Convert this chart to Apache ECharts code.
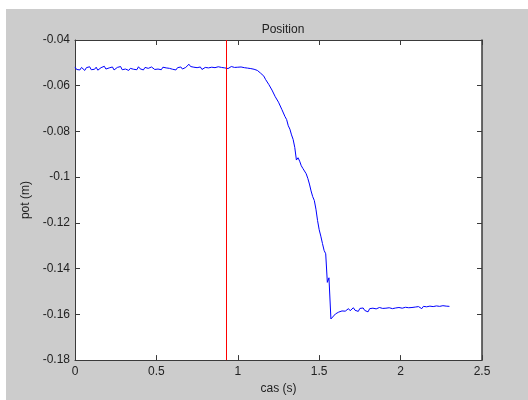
<!DOCTYPE html>
<html>
<head>
<meta charset="utf-8">
<script src="https://cdn.jsdelivr.net/npm/echarts@6/dist/echarts.min.js"></script>
<style>
html,body{margin:0;padding:0;background:#ffffff;width:528px;height:400px;overflow:hidden;}
#chart{position:absolute;left:6px;top:9px;width:522px;height:391px;}
</style>
</head>
<body>
<div id="chart"></div>
<script>
var titleText = 'Position';
var xName = 'cas (s)';
var yName = 'pot (m)';
var xTicks = [0, 0.5, 1, 1.5, 2, 2.5];
var yTicks = [-0.18, -0.16, -0.14, -0.12, -0.1, -0.08, -0.06, -0.04];
var markerTime = 0.932;

// flat start (0.00 - 1.10)
var timesA = [
0.00,0.01,0.02,0.03,0.04,0.05,0.06,0.07,0.08,0.09,
0.10,0.11,0.12,0.13,0.14,0.15,0.16,0.17,0.18,0.19,
0.20,0.21,0.22,0.23,0.24,0.25,0.26,0.27,0.28,0.29,
0.30,0.31,0.32,0.33,0.34,0.35,0.36,0.37,0.38,0.39,
0.40,0.41,0.42,0.43,0.44,0.45,0.46,0.47,0.48,0.49,
0.50,0.51,0.52,0.53,0.54,0.55,0.56,0.57,0.58,0.59,
0.60,0.61,0.62,0.63,0.64,0.65,0.66,0.67,0.68,0.69,
0.70,0.71,0.72,0.73,0.74,0.75,0.76,0.77,0.78,0.79,
0.80,0.81,0.82,0.83,0.84,0.85,0.86,0.87,0.88,0.89,
0.90,0.91,0.92,0.93,0.94,0.95,0.96,0.97,0.98,0.99,
1.00,1.01,1.02,1.03,1.04,1.05,1.06,1.07,1.08,1.09,1.10
];
var positionsA = [
-0.0518,-0.0529,-0.0522,-0.0531,-0.0520,-0.0527,-0.0533,-0.0521,-0.0526,-0.0517,
-0.0530,-0.0523,-0.0528,-0.0519,-0.0532,-0.0524,-0.0521,-0.0529,-0.0515,-0.0527,
-0.0534,-0.0522,-0.0526,-0.0518,-0.0531,-0.0525,-0.0520,-0.0528,-0.0516,-0.0530,
-0.0523,-0.0527,-0.0521,-0.0533,-0.0524,-0.0519,-0.0528,-0.0522,-0.0530,-0.0517,
-0.0526,-0.0523,-0.0531,-0.0520,-0.0527,-0.0524,-0.0532,-0.0518,-0.0525,-0.0529,
-0.0521,-0.0527,-0.0523,-0.0530,-0.0519,-0.0526,-0.0522,-0.0529,-0.0524,-0.0520,
-0.0528,-0.0523,-0.0531,-0.0521,-0.0526,-0.0518,-0.0527,-0.0522,-0.0520,-0.0512,
-0.0506,-0.0516,-0.0524,-0.0519,-0.0527,-0.0521,-0.0525,-0.0518,-0.0529,-0.0523,
-0.0520,-0.0527,-0.0522,-0.0530,-0.0519,-0.0525,-0.0521,-0.0528,-0.0517,-0.0524,
-0.0520,-0.0527,-0.0522,-0.0518,-0.0525,-0.0521,-0.0516,-0.0524,-0.0520,-0.0526,
-0.0519,-0.0523,-0.0518,-0.0525,-0.0521,-0.0527,-0.0523,-0.0529,-0.0525,-0.0531,-0.0528
];

// fall (1.11 - 1.64)
var timesB = [
1.11,1.12,1.13,1.14,1.15,1.16,1.17,1.18,1.19,1.20,
1.21,1.22,1.23,1.24,1.25,1.26,1.27,1.28,1.29,1.30,
1.31,1.32,1.33,1.34,1.35,1.36,1.37,1.38,1.39,1.40,
1.41,1.42,1.43,1.44,1.45,1.46,1.47,1.48,1.49,1.50,
1.51,1.52,1.53,1.54,1.55,1.56,1.57,1.572,1.58,1.60,1.62
];
var positionsB = [
-0.0536,-0.0533,-0.0541,-0.0545,-0.0553,-0.0558,-0.0572,-0.0580,-0.0594,-0.0600,
-0.0619,-0.0626,-0.0648,-0.0655,-0.0672,-0.0680,-0.0703,-0.0710,-0.0735,-0.0748,
-0.0775,-0.0790,-0.0815,-0.0835,-0.0870,-0.0925,-0.0915,-0.0930,-0.0950,-0.0962,
-0.0968,-0.0985,-0.1005,-0.1030,-0.1060,-0.1085,-0.1102,-0.1140,-0.1190,-0.1230,
-0.1258,-0.1290,-0.1320,-0.1335,-0.1460,-0.1440,-0.1435,-0.1620,-0.1612,-0.1598,-0.1590
];

// settled end (1.64 - 2.30)
var timesC = [
1.64,1.65,1.66,1.67,1.68,1.69,1.70,1.71,1.72,1.73,
1.74,1.75,1.76,1.77,1.78,1.79,1.80,1.81,1.82,1.83,
1.84,1.85,1.86,1.87,1.88,1.89,1.90,1.91,1.92,1.93,
1.94,1.95,1.96,1.97,1.98,1.99,2.00,2.01,2.02,2.03,
2.04,2.05,2.06,2.07,2.08,2.09,2.10,2.11,2.12,2.13,
2.14,2.15,2.16,2.17,2.18,2.19,2.20,2.21,2.22,2.23,
2.24,2.25,2.26,2.27,2.28,2.29,2.30
];
var positionsC = [
-0.1585,-0.1579,-0.1586,-0.1580,-0.1575,-0.1584,-0.1577,-0.1571,-0.1582,-0.1576,
-0.1587,-0.1574,-0.1580,-0.1572,-0.1583,-0.1577,-0.1589,-0.1575,-0.1581,-0.1573,
-0.1579,-0.1576,-0.1584,-0.1570,-0.1578,-0.1574,-0.1580,-0.1573,-0.1577,-0.1571,
-0.1579,-0.1575,-0.1582,-0.1572,-0.1576,-0.1570,-0.1578,-0.1573,-0.1576,-0.1569,
-0.1575,-0.1571,-0.1579,-0.1570,-0.1574,-0.1568,-0.1573,-0.1566,-0.1571,-0.1575,
-0.1565,-0.1570,-0.1567,-0.1573,-0.1564,-0.1569,-0.1566,-0.1571,-0.1563,-0.1568,
-0.1565,-0.1569,-0.1562,-0.1567,-0.1564,-0.1568,-0.1565
];

var times = timesA.concat(timesB, timesC);
var positions = positionsA.concat(positionsB, positionsC);
var seriesData = times.map(function (t, i) { return [t, positions[i]]; });

var FONT = 'Liberation Sans, Arial, sans-serif';
var axisColor = '#3a3a3a';
var textColor = '#222222';

function fmt(v) { return String(parseFloat(v.toFixed(4))); }

var xMin = xTicks[0], xMax = xTicks[xTicks.length - 1];
var yMin = yTicks[0], yMax = yTicks[yTicks.length - 1];
var xInt = xTicks[1] - xTicks[0];
var yInt = 0.02;

var chart = echarts.init(document.getElementById('chart'), null, {renderer: 'canvas'});
chart.setOption({
  backgroundColor: '#cccccc',
  animation: false,
  title: {
    text: titleText,
    left: 272, top: 10, textAlign: 'center',
    textStyle: {fontFamily: FONT, fontSize: 12, fontWeight: 'normal', color: textColor}
  },
  grid: {left: 69, top: 31, right: 46, bottom: 37, show: true, backgroundColor: '#ffffff', borderWidth: 0},
  xAxis: [{
    type: 'value', min: xMin, max: xMax, interval: xInt, position: 'bottom',
    name: xName, nameLocation: 'middle', nameGap: 20,
    nameTextStyle: {fontFamily: FONT, fontSize: 12, color: textColor},
    axisLine: {show: true, onZero: false, lineStyle: {color: axisColor, width: 1}},
    axisTick: {show: true, inside: true, length: 5, lineStyle: {color: axisColor}},
    axisLabel: {fontFamily: FONT, fontSize: 12, color: textColor, margin: 6, formatter: fmt},
    splitLine: {show: false}
  }, {
    type: 'value', min: xMin, max: xMax, interval: xInt, position: 'top',
    axisLine: {show: true, onZero: false, lineStyle: {color: axisColor, width: 1}},
    axisTick: {show: true, inside: true, length: 5, lineStyle: {color: axisColor}},
    axisLabel: {show: false}, splitLine: {show: false}
  }],
  yAxis: [{
    type: 'value', min: yMin, max: yMax, interval: yInt, position: 'left',
    name: yName, nameLocation: 'middle', nameGap: 37,
    nameTextStyle: {fontFamily: FONT, fontSize: 12, color: textColor},
    axisLine: {show: true, onZero: false, lineStyle: {color: axisColor, width: 1}},
    axisTick: {show: true, inside: true, length: 5, lineStyle: {color: axisColor}},
    axisLabel: {fontFamily: FONT, fontSize: 12, color: textColor, margin: 5, formatter: fmt},
    splitLine: {show: false}
  }, {
    type: 'value', min: yMin, max: yMax, interval: yInt, position: 'right',
    axisLine: {show: true, onZero: false, lineStyle: {color: axisColor, width: 1.5}},
    axisTick: {show: true, inside: true, length: 5, lineStyle: {color: axisColor}},
    axisLabel: {show: false}, splitLine: {show: false}
  }],
  series: [{
    type: 'line',
    data: seriesData,
    showSymbol: false,
    lineStyle: {color: '#0000ff', width: 1},
    itemStyle: {color: '#0000ff'},
    markLine: {
      silent: true, symbol: 'none',
      label: {show: false},
      lineStyle: {color: '#ff0000', width: 1, type: 'solid'},
      data: [{xAxis: markerTime}]
    }
  }]
});
</script>
</body>
</html>
